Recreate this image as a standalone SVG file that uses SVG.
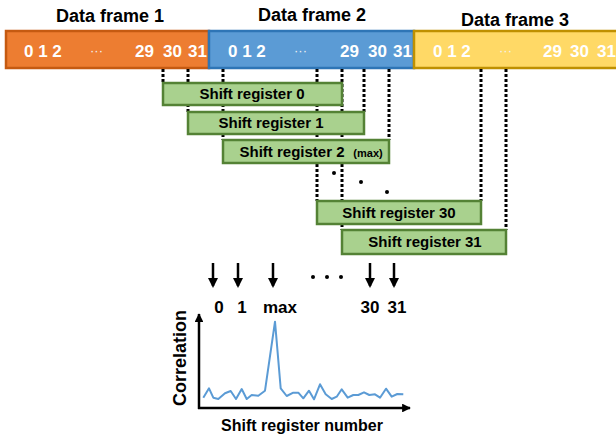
<svg xmlns="http://www.w3.org/2000/svg" width="616" height="437" viewBox="0 0 616 437">
<style>
text{font-family:"Liberation Sans",Arial,sans-serif;font-weight:bold}
.title{font-size:18px;fill:#000;text-anchor:middle}
.num{font-size:17px;fill:#fff}
.ell{font-size:13px;fill:#f2f2f2;font-weight:normal}
.reg rect{fill:#a9d18e;stroke:#548235;stroke-width:2.5}
.reg text{font-size:15px;fill:#000;text-anchor:middle}
.dot{stroke:#000;stroke-width:3;stroke-dasharray:3 2;fill:none}
.lbl{font-size:17px;fill:#000;text-anchor:middle}
.arr{stroke:#000;stroke-width:2.5;fill:none}
</style>
<defs>
<marker id="ah" viewBox="0 0 10 10" refX="8" refY="5" markerWidth="4.4" markerHeight="4" orient="auto" markerUnits="strokeWidth">
<path d="M0,0 L10,5 L0,10 z" fill="#000"/>
</marker>
<marker id="ah2" viewBox="0 0 10 10" refX="9" refY="5" markerWidth="3.5" markerHeight="3.5" orient="auto" markerUnits="strokeWidth">
<path d="M0,0 L10,5 L0,10 z" fill="#000"/>
</marker>
</defs>

<g id="frame1">
<text class="title" x="110" y="22">Data frame 1</text>
<rect x="6" y="31" width="203" height="37" fill="#ed7d31" stroke="#c55a11" stroke-width="2.5"/>
<text class="num" x="24" y="57">0 1 2</text>
<text class="ell" x="90" y="55">···</text>
<text class="num" x="135" y="57">29</text>
<text class="num" x="163" y="57">30</text>
<text class="num" x="188" y="57">31</text>
</g>
<g id="frame2">
<text class="title" x="312" y="21">Data frame 2</text>
<rect x="209" y="31" width="205" height="37" fill="#5b9bd5" stroke="#2e75b6" stroke-width="2.5"/>
<text class="num" x="228" y="57">0 1 2</text>
<text class="ell" x="294" y="55">···</text>
<text class="num" x="340" y="57">29</text>
<text class="num" x="368" y="57">30</text>
<text class="num" x="393" y="57">31</text>
</g>
<g id="frame3">
<text class="title" x="515" y="26">Data frame 3</text>
<rect x="414" y="31" width="206" height="37" fill="#ffd966" stroke="#bf9000" stroke-width="2.5"/>
<text class="num" x="433" y="57">0 1 2</text>
<text class="ell" x="499" y="55">···</text>
<text class="num" x="543" y="57">29</text>
<text class="num" x="570" y="57">30</text>
<text class="num" x="597" y="57">31</text>
</g>

<g id="connectors">
<line class="dot" x1="163" y1="69" x2="163" y2="83"/>
<line class="dot" x1="188" y1="69" x2="188" y2="112"/>
<line class="dot" x1="223" y1="69" x2="223" y2="140"/>
<line class="dot" x1="317" y1="69" x2="317" y2="201"/>
<line class="dot" x1="342" y1="69" x2="342" y2="230"/>
<line class="dot" x1="364" y1="69" x2="364" y2="112"/>
<line class="dot" x1="389" y1="69" x2="389" y2="140"/>
<line class="dot" x1="481" y1="69" x2="481" y2="201"/>
<line class="dot" x1="506" y1="69" x2="506" y2="230"/>
<circle cx="334" cy="173" r="2"/>
<circle cx="361" cy="182" r="2"/>
<circle cx="387" cy="192" r="2"/>
</g>

<g id="reg0" class="reg">
<rect x="163" y="83" width="179" height="22"/>
<text x="252" y="99">Shift register 0</text>
</g>
<g id="reg1" class="reg">
<rect x="188" y="112" width="176" height="22"/>
<text x="271" y="128">Shift register 1</text>
</g>
<g id="reg2" class="reg">
<rect x="223" y="140" width="166" height="23"/>
<text x="292" y="157">Shift register 2</text>
<text x="368" y="157" style="font-size:11px">(max)</text>
</g>
<g id="reg30" class="reg">
<rect x="317" y="201" width="164" height="23"/>
<text x="399" y="218">Shift register 30</text>
</g>
<g id="reg31" class="reg">
<rect x="342" y="230" width="164" height="24"/>
<text x="425" y="247">Shift register 31</text>
</g>

<g id="arrows">
<line class="arr" x1="213" y1="263" x2="213" y2="286" marker-end="url(#ah)"/>
<line class="arr" x1="238" y1="263" x2="238" y2="286" marker-end="url(#ah)"/>
<line class="arr" x1="273" y1="263" x2="273" y2="286" marker-end="url(#ah)"/>
<line class="arr" x1="370" y1="263" x2="370" y2="286" marker-end="url(#ah)"/>
<line class="arr" x1="394" y1="263" x2="394" y2="286" marker-end="url(#ah)"/>
<circle cx="313" cy="277" r="2"/>
<circle cx="327" cy="277" r="2"/>
<circle cx="341" cy="277" r="2"/>
</g>

<g id="labels">
<text class="lbl" x="219" y="313">0</text>
<text class="lbl" x="242" y="313">1</text>
<text class="lbl" x="280" y="313">max</text>
<text class="lbl" x="370" y="313">30</text>
<text class="lbl" x="397" y="313">31</text>
</g>

<g id="chart">
<line x1="199" y1="409" x2="199" y2="314" stroke="#000" stroke-width="2.5" marker-end="url(#ah2)"/>
<line x1="198" y1="408" x2="410" y2="408" stroke="#000" stroke-width="2.5" marker-end="url(#ah2)"/>
<polyline fill="none" stroke="#5b9bd5" stroke-width="2" stroke-linejoin="round" points="203.3,397.7 209,388.3 213.3,397.7 218.3,399 225,393.3 230.7,391 236,399 241.7,389 246.7,399 251.7,395 258.3,395.7 265,390.7 275,321.7 280.7,388.3 286.7,396 293.3,392.7 298.3,392.7 303.3,398.3 309,390.7 314,399.3 320,384.3 325.7,394.3 331.7,399 336.7,396.7 341.7,389.3 347.7,397.7 353.3,395 358.3,395 364,392.3 369.3,395 375,394.3 380,397.7 386,388.7 391.7,396.7 397.3,394 403.3,394.3"/>
<text x="186" y="358" transform="rotate(-90 186 358)" style="font-size:18px" text-anchor="middle">Correlation</text>
<text x="302" y="431" style="font-size:16px" text-anchor="middle">Shift register number</text>
</g>
</svg>
